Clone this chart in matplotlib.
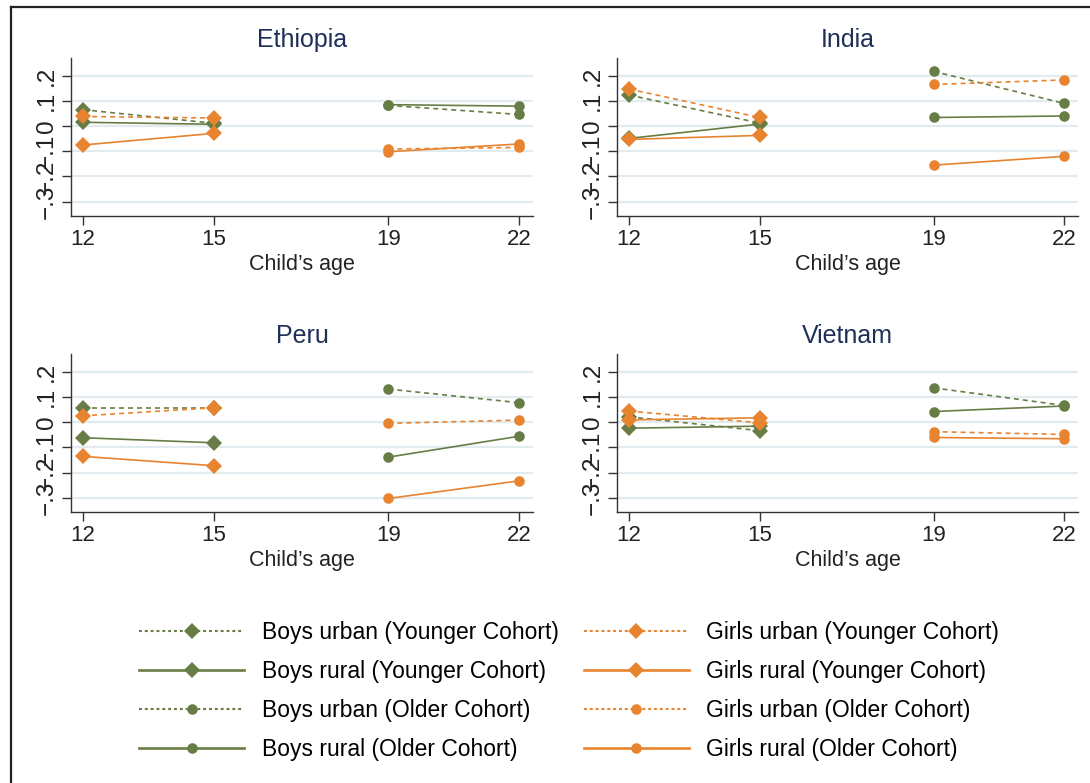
import matplotlib
matplotlib.use("Agg")
import matplotlib.pyplot as plt
from matplotlib.lines import Line2D

plt.rcParams['font.family'] = ['Liberation Sans', 'DejaVu Sans']

# ages by cohort
ages_yc = [12, 15]
ages_oc = [19, 22]

countries = ['Ethiopia', 'India', 'Peru', 'Vietnam']

# younger cohort (ages 12, 15)
boys_urban_yc = {'Ethiopia': [0.065, 0.011], 'India': [0.123, 0.012],
                 'Peru': [0.057, 0.057], 'Vietnam': [0.021, -0.034]}
boys_rural_yc = {'Ethiopia': [0.015, 0.007], 'India': [-0.049, 0.008],
                 'Peru': [-0.062, -0.082], 'Vietnam': [-0.024, -0.016]}
girls_urban_yc = {'Ethiopia': [0.038, 0.032], 'India': [0.147, 0.034],
                  'Peru': [0.025, 0.057], 'Vietnam': [0.044, -0.003]}
girls_rural_yc = {'Ethiopia': [-0.075, -0.029], 'India': [-0.053, -0.037],
                  'Peru': [-0.136, -0.173], 'Vietnam': [0.009, 0.017]}

# older cohort (ages 19, 22)
boys_urban_oc = {'Ethiopia': [0.082, 0.046], 'India': [0.217, 0.090],
                 'Peru': [0.131, 0.077], 'Vietnam': [0.136, 0.066]}
boys_rural_oc = {'Ethiopia': [0.085, 0.079], 'India': [0.034, 0.040],
                 'Peru': [-0.139, -0.056], 'Vietnam': [0.042, 0.064]}
girls_urban_oc = {'Ethiopia': [-0.091, -0.085], 'India': [0.165, 0.183],
                  'Peru': [-0.005, 0.008], 'Vietnam': [-0.038, -0.049]}
girls_rural_oc = {'Ethiopia': [-0.102, -0.071], 'India': [-0.155, -0.120],
                  'Peru': [-0.303, -0.233], 'Vietnam': [-0.061, -0.066]}

yticks = [-0.3, -0.2, -0.1, 0, 0.1, 0.2]
ytick_labels = ['\u2212.3', '\u2212.2', '\u2212.1', '0', '.1', '.2']
xticks = [12, 15, 19, 22]

green = '#687d45'
orange = '#e8832f'
dash = (0, (3.0, 2.4))

series = [
    ('Boys urban (Younger Cohort)', boys_urban_yc, ages_yc, green, dash, 'D'),
    ('Boys rural (Younger Cohort)', boys_rural_yc, ages_yc, green, '-', 'D'),
    ('Boys urban (Older Cohort)', boys_urban_oc, ages_oc, green, dash, 'o'),
    ('Boys rural (Older Cohort)', boys_rural_oc, ages_oc, green, '-', 'o'),
    ('Girls urban (Younger Cohort)', girls_urban_yc, ages_yc, orange, dash, 'D'),
    ('Girls rural (Younger Cohort)', girls_rural_yc, ages_yc, orange, '-', 'D'),
    ('Girls urban (Older Cohort)', girls_urban_oc, ages_oc, orange, dash, 'o'),
    ('Girls rural (Older Cohort)', girls_rural_oc, ages_oc, orange, '-', 'o'),
]

fig = plt.figure(figsize=(10.9, 7.83), dpi=100)

positions = {
    'Ethiopia': [0.0651, 0.7241, 0.424, 0.2018],
    'India': [0.566, 0.7241, 0.423, 0.2018],
    'Peru': [0.0651, 0.346, 0.424, 0.2018],
    'Vietnam': [0.566, 0.346, 0.423, 0.2018],
}

def marker_size(mk):
    return 8.0 if mk == 'D' else 7.6

for c in countries:
    ax = fig.add_axes(positions[c])
    for label, data, ages, col, ls, mk in series:
        ax.plot(ages, data[c], color=col, linestyle=ls, linewidth=1.2,
                marker=mk, markersize=marker_size(mk), markeredgewidth=0)
    ax.set_xlim(11.72, 22.32)
    ax.set_ylim(-0.357, 0.27)
    ax.set_xticks(xticks)
    ax.set_yticks(yticks)
    ax.set_yticklabels(ytick_labels, rotation=90, va='center', fontsize=17.5)
    ax.yaxis.grid(True, color='#e2ecef', linewidth=1.6)
    ax.set_axisbelow(True)
    for s in ['top', 'right']:
        ax.spines[s].set_visible(False)
    for s in ['left', 'bottom']:
        ax.spines[s].set_color('#333333')
        ax.spines[s].set_linewidth(1.0)
    ax.tick_params(axis='both', direction='out', length=6.5, width=1.0,
                   color='#333333', labelcolor='#222222')
    ax.tick_params(axis='x', pad=3, labelsize=16)
    ax.tick_params(axis='y', pad=3)
    ax.set_xlabel("Child\u2019s age", fontsize=15.5, color='#222222', labelpad=3)
    ax.set_title(c, fontsize=18, color='#1f3058', pad=8)

handles = []
for label, data, ages, col, ls, mk in series:
    handles.append(Line2D([], [], color=col,
                          linestyle='-' if ls == '-' else (0, (1.4, 1.4)),
                          linewidth=1.9 if ls == '-' else 1.5, marker=mk,
                          markersize=marker_size(mk), markeredgewidth=0, label=label))

fig.legend(handles=handles, ncol=2, loc='center', bbox_to_anchor=(0.522, 0.1175),
           frameon=False, fontsize=16.5, handlelength=4.6, handletextpad=0.75,
           columnspacing=1.1, labelspacing=0.70)

# outer frame
fig.add_artist(Line2D([11 / 1090, 11 / 1090], [0, 1 - 7 / 783], color='#222222',
                      linewidth=1.6, transform=fig.transFigure))
fig.add_artist(Line2D([11 / 1090, 1], [1 - 7 / 783, 1 - 7 / 783], color='#222222',
                      linewidth=1.6, transform=fig.transFigure))

fig.savefig('out.png', dpi=100, facecolor='white')
